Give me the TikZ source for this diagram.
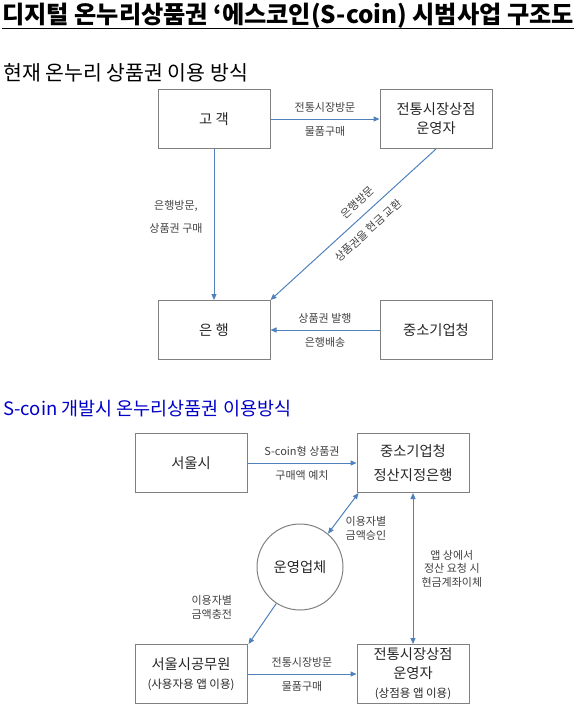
\documentclass[tikz,border=0pt]{standalone}
\usepackage{fontspec}
\setmainfont{Noto Sans CJK KR}
\usetikzlibrary{arrows.meta,positioning,calc}

\definecolor{flowBlue}{HTML}{4F81BD}
\definecolor{boxGray}{HTML}{808080}
\definecolor{headBlue}{HTML}{0000C8}

\tikzset{
    entBox/.style={
        rectangle,
        draw=boxGray,
        line width=1pt,
        minimum width=112pt,
        minimum height=59pt,
        inner sep=2pt,
        align=center,
        text=black!85,
        font=\fontsize{14.3}{19}\selectfont
    },
    opCircle/.style={
        circle,
        draw=boxGray,
        line width=1pt,
        minimum size=86pt,
        inner sep=0pt,
        text=black!85,
        font=\fontsize{14.3}{19}\selectfont
    },
    % Arrows
    flowArrow/.style={-{Triangle[length=6pt,width=5pt]}, line width=1pt, draw=flowBlue},
    flowBoth/.style={{Triangle[length=6pt,width=5pt]}-{Triangle[length=6pt,width=5pt]}, line width=1pt, draw=flowBlue},
    flowLabel/.style={
        font=\fontsize{11}{13.5}\selectfont,
        text=black!75,
        inner sep=1pt,
        align=center
    },
    sectHead/.style={anchor=west, inner sep=0pt}
}

\begin{document}
\begin{tikzpicture}[x=1pt, y=-1pt]
\useasboundingbox (0,0) rectangle (581,710);

\node[anchor=west, inner sep=0pt, font=\bfseries\fontsize{24.2}{26}\selectfont] (title) at (2,16) {디지털 온누리상품권 ‘에스코인(S-coin) 시범사업 구조도};
\draw[line width=1.5pt] ([yshift=-5pt]title.base west) -- ([yshift=-5pt]title.base east);
\node[sectHead, font=\fontsize{20.5}{22}\selectfont] (headNow) at (3,73) {현재 온누리 상품권 이용 방식};
\node[sectHead, font=\fontsize{18.5}{20}\selectfont, text=headBlue] (headNew) at (3,409) {S-coin 개발시 온누리상품권 이용방식};

% current scheme
\node[entBox] (cust) at (214,119) {고 객};
\node[entBox, right=109pt of cust] (store) {전통시장상점\\운영자};
\node[entBox, below=151pt of cust] (bank) {은 행};
\node[entBox, below=151pt of store] (smba) {중소기업청};

\draw[flowArrow] (cust) -- (store)
    node[flowLabel, midway, above=5pt] {전통시장방문}
    node[flowLabel, midway, below=6pt] {물품구매};
\draw[flowArrow] (cust) -- (bank)
    node[flowLabel, pos=0.45, left=10pt, font=\fontsize{11}{23}\selectfont] {은행방문,\\상품권 구매};
\draw[flowArrow] (store.south) -- (bank.north east)
    node[flowLabel, pos=0.42, sloped, above=7pt] {은행방문}
    node[flowLabel, pos=0.47, sloped, below=8pt] {상품권을 현금 교환};
\draw[flowArrow] (smba) -- (bank)
    node[flowLabel, midway, above=5pt] {상품권 발행}
    node[flowLabel, midway, below=6pt] {은행배송};

% S-coin scheme
\node[entBox] (seoul) at (191,463) {서울시};
\node[entBox, right=109pt of seoul, font=\fontsize{14.3}{24}\selectfont] (clear) {중소기업청\\정산지정은행};
\node[opCircle] (oper) at (300,567) {운영업체};
\node[entBox, below=151pt of seoul] (staff) {서울시공무원\\{\fontsize{11.5}{13}\selectfont(사용자용 앱 이용)}};
\node[entBox, below=151pt of clear] (shop) {전통시장상점\\운영자\\{\fontsize{11.5}{13}\selectfont(상점용 앱 이용)}};

\draw[flowArrow] (seoul) -- (clear)
    node[flowLabel, midway, above=5pt] {S-coin형 상품권}
    node[flowLabel, midway, below=6pt] {구매액 예치};
\draw[flowBoth] (oper.50) -- ([xshift=2pt]clear.south west)
    node[flowLabel, midway, anchor=north west, xshift=1pt, yshift=-2pt, align=left] {이용자별\\금액승인};
\draw[flowBoth] (clear) -- (shop)
    node[flowLabel, midway, right=7pt] {앱 상에서\\정산 요청 시\\현금계좌이체};
\draw[flowArrow] (oper.237) -- ([xshift=1pt]staff.north east)
    node[flowLabel, pos=0.1, left=40pt] {이용자별\\금액충전};
\draw[flowArrow] (staff) -- (shop)
    node[flowLabel, midway, above=5pt] {전통시장방문}
    node[flowLabel, midway, below=6pt] {물품구매};
\end{tikzpicture}
\end{document}
